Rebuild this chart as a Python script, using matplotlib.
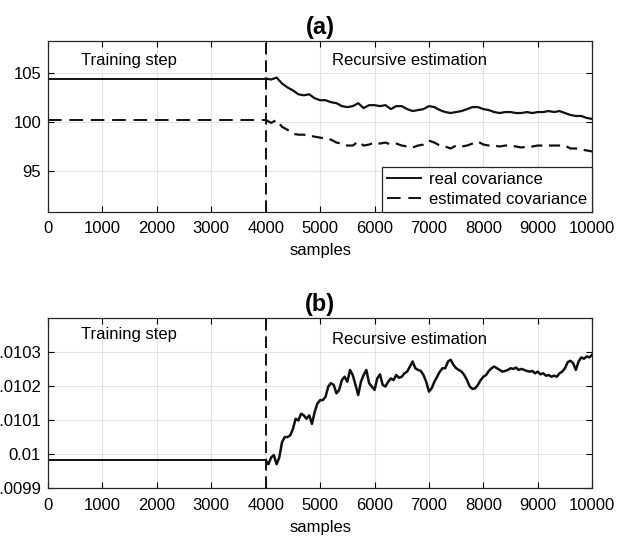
import numpy as np
import matplotlib.pyplot as plt

plt.rcParams['font.family'] = ['Liberation Sans', 'DejaVu Sans']

# training step levels (samples 0..4000)
train_end = 4000
real_train = 104.4
est_train = 100.2
var_train = 0.009982

# (a) recursive estimation, every 100 samples from 4000 to 10000
real_cov = [
    104.4, 104.3, 104.5, 103.9, 103.5, 103.2, 102.8, 102.7, 102.8, 102.4,
    102.2, 102.2, 102.0, 101.9, 101.6, 101.5, 101.6, 101.9, 101.4, 101.7,
    101.7, 101.6, 101.7, 101.3, 101.6, 101.6, 101.3, 101.1, 101.2, 101.3,
    101.6, 101.5, 101.2, 101.0, 100.9, 101.0, 101.1, 101.3, 101.5, 101.5,
    101.3, 101.2, 101.0, 100.9, 101.0, 101.0, 100.9, 100.9, 101.0, 100.9,
    101.0, 101.0, 101.1, 101.0, 101.1, 100.9, 100.7, 100.6, 100.6, 100.4,
    100.3,
]
est_cov = [
    100.2, 99.9, 100.2, 99.5, 99.2, 98.8, 98.7, 98.7, 98.6, 98.5,
    98.4, 98.3, 98.2, 97.9, 97.8, 97.6, 97.6, 98.0, 97.6, 97.7,
    97.9, 97.8, 97.9, 97.7, 97.8, 97.6, 97.5, 97.4, 97.6, 97.7,
    98.1, 97.9, 97.6, 97.5, 97.3, 97.6, 97.5, 97.6, 97.8, 98.0,
    97.7, 97.6, 97.6, 97.5, 97.6, 97.6, 97.5, 97.4, 97.5, 97.5,
    97.6, 97.6, 97.6, 97.6, 97.6, 97.6, 97.3, 97.3, 97.2, 97.1,
    97.0,
]

# (b) recursive estimation, every 50 samples from 4000 to 10000
var_est = [
    0.009982, 0.009970, 0.009990, 0.009997, 0.009970, 0.009990, 0.010035, 0.010050, 0.010050, 0.010055,
    0.010074, 0.010104, 0.010099, 0.010119, 0.010114, 0.010104, 0.010114, 0.010089, 0.010124, 0.010149,
    0.010159, 0.010159, 0.010169, 0.010199, 0.010209, 0.010204, 0.010179, 0.010189, 0.010218, 0.010228,
    0.010213, 0.010248, 0.010233, 0.010204, 0.010174, 0.010213, 0.010233, 0.010248, 0.010209, 0.010199,
    0.010189, 0.010223, 0.010235, 0.010204, 0.010199, 0.010213, 0.010223, 0.010218, 0.010233, 0.010225,
    0.010228, 0.010238, 0.010243, 0.010258, 0.010273, 0.010253, 0.010248, 0.010245, 0.010233, 0.010213,
    0.010184, 0.010194, 0.010213, 0.010228, 0.010243, 0.010253, 0.010253, 0.010273, 0.010278, 0.010263,
    0.010253, 0.010248, 0.010243, 0.010233, 0.010218, 0.010199, 0.010192, 0.010194, 0.010204, 0.010218,
    0.010228, 0.010233, 0.010245, 0.010253, 0.010258, 0.010253, 0.010248, 0.010243, 0.010245, 0.010248,
    0.010253, 0.010251, 0.010255, 0.010248, 0.010251, 0.010248, 0.010245, 0.010243, 0.010245, 0.010238,
    0.010243, 0.010235, 0.010238, 0.010231, 0.010233, 0.010228, 0.010231, 0.010228, 0.010238, 0.010243,
    0.010253, 0.010271, 0.010275, 0.010268, 0.010248, 0.010273, 0.010285, 0.010281, 0.010288, 0.010285,
    0.010293,
]

x_ticks = [0, 1000, 2000, 3000, 4000, 5000, 6000, 7000, 8000, 9000, 10000]
a_yticks = [95, 100, 105]
b_yticks = [0.0099, 0.0100, 0.0101, 0.0102, 0.0103]
b_ylabels = ['0.0099', '0.01', '0.0101', '0.0102', '0.0103']

xa = np.arange(4000, 10001, 100)
xb = np.arange(4000, 10001, 50)

fig = plt.figure(figsize=(6.24, 5.41), dpi=100)
ax1 = fig.add_axes([0.077, 0.609, 0.872, 0.315])
ax2 = fig.add_axes([0.077, 0.098, 0.872, 0.3135])


def style_axes(ax):
    ax.set_xlim(0, 10000)
    ax.set_xticks(x_ticks)
    ax.grid(True, color='#e3e3e3', linewidth=0.8)
    ax.set_axisbelow(True)
    ax.tick_params(direction='in', top=True, right=True, labelsize=12, length=4, width=0.8)
    ax.tick_params(axis='x', pad=7)
    ax.tick_params(axis='y', pad=5)
    for s in ax.spines.values():
        s.set_linewidth(0.9)
        s.set_color('#262626')
    ax.set_xlabel('samples', fontsize=12, labelpad=5)


# (a)
ax1.plot([0, train_end], [real_train, real_train], color='#111111', lw=1.4, label='real covariance')
ax1.plot(xa, real_cov, color='#111111', lw=1.6)
ax1.plot([0, train_end], [est_train, est_train], color='#111111', lw=1.4, ls=(0, (7, 4)),
         label='estimated covariance')
ax1.plot(xa, est_cov, color='#111111', lw=1.6, ls=(0, (5, 3)))
ax1.axvline(train_end, color='#111111', lw=1.4, ls=(0, (6, 3)))
ax1.set_ylim(90.9, 108.2)
ax1.set_yticks(a_yticks)
style_axes(ax1)
ax1.text(610, 106.2, 'Training step', fontsize=12, va='center')
ax1.text(5220, 106.2, 'Recursive estimation', fontsize=12, va='center')
ax1.set_title('(a)', fontsize=17, fontweight='bold', pad=5)
leg = ax1.legend(loc='lower right', fontsize=12, frameon=True, fancybox=False, framealpha=1,
                 edgecolor='#262626', borderaxespad=0, handlelength=2.0, borderpad=0.3,
                 labelspacing=0.3, handletextpad=0.5)
leg.get_frame().set_linewidth(0.9)

# (b)
ax2.plot([0, train_end], [var_train, var_train], color='#111111', lw=1.4)
ax2.plot(xb, var_est, color='#111111', lw=1.8)
ax2.axvline(train_end, color='#111111', lw=1.4, ls=(0, (6, 3)))
ax2.set_ylim(0.0099, 0.01040)
ax2.set_yticks(b_yticks)
ax2.set_yticklabels(b_ylabels)
style_axes(ax2)
ax2.text(610, 0.010353, 'Training step', fontsize=12, va='center')
ax2.text(5220, 0.010338, 'Recursive estimation', fontsize=12, va='center')
ax2.set_title('(b)', fontsize=17, fontweight='bold', pad=5)

fig.savefig('out.png', dpi=100)
